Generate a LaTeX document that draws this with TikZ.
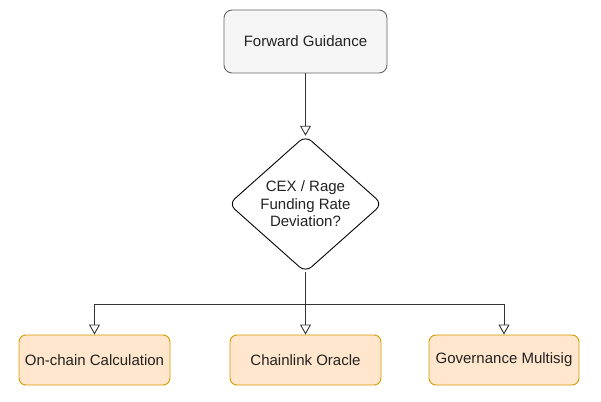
\documentclass[tikz,border=0pt]{standalone}
\usepackage{fontspec}
\setmainfont{Liberation Sans}
\usetikzlibrary{arrows.meta,shapes.geometric}
\definecolor{grayfill}{HTML}{F5F5F5}
\definecolor{grayline}{HTML}{666666}
\definecolor{orfill}{HTML}{FFE6CC}
\definecolor{orline}{HTML}{D79B00}
\definecolor{txt}{HTML}{222222}
\definecolor{conn}{HTML}{333333}
\begin{document}
\begin{tikzpicture}[x=1pt,y=-1pt,
  every node/.style={font=\fontsize{15}{17.5}\selectfont, text=txt, inner sep=0pt},
  topbox/.style={draw=grayline, fill=grayfill, rounded corners=8pt, line width=0.9pt, minimum width=163pt, minimum height=63pt},
  leafbox/.style={draw=orline, fill=orfill, rounded corners=7pt, line width=0.9pt, minimum width=151pt, minimum height=50pt},
  arr/.style={draw=conn, line width=0.9pt, -{Triangle[open, length=10pt, width=11pt]}}
]
\useasboundingbox (0,0) rectangle (601,401);
\fill[white] (0,0) rectangle (601,401);
\node[topbox] (top) at (305.5,41.5) {Forward Guidance};
\node[diamond, minimum width=153pt, minimum height=132pt, align=center] (dec) at (305.5,204) {CEX / Rage\\Funding Rate\\Deviation?};
\draw[line width=0.9pt, rounded corners=8pt, draw=black] (dec.north) -- (dec.east) -- (dec.south) -- (dec.west) -- cycle;
\node[leafbox] (b1) at (94.5,360) {On-chain Calculation};
\node[leafbox] (b2) at (305.5,360) {Chainlink Oracle};
\node[leafbox, minimum width=150pt] (b3) at (504,360) {Governance Multisig};
\coordinate (split) at (305.5,304);
\draw[arr] (top.south) -- (dec.north);
\draw[arr] (dec.south) -- (b2.north);
\draw[arr] (split) -| (b1.north);
\draw[arr] (split) -| (b3.north);
\end{tikzpicture}
\end{document}
